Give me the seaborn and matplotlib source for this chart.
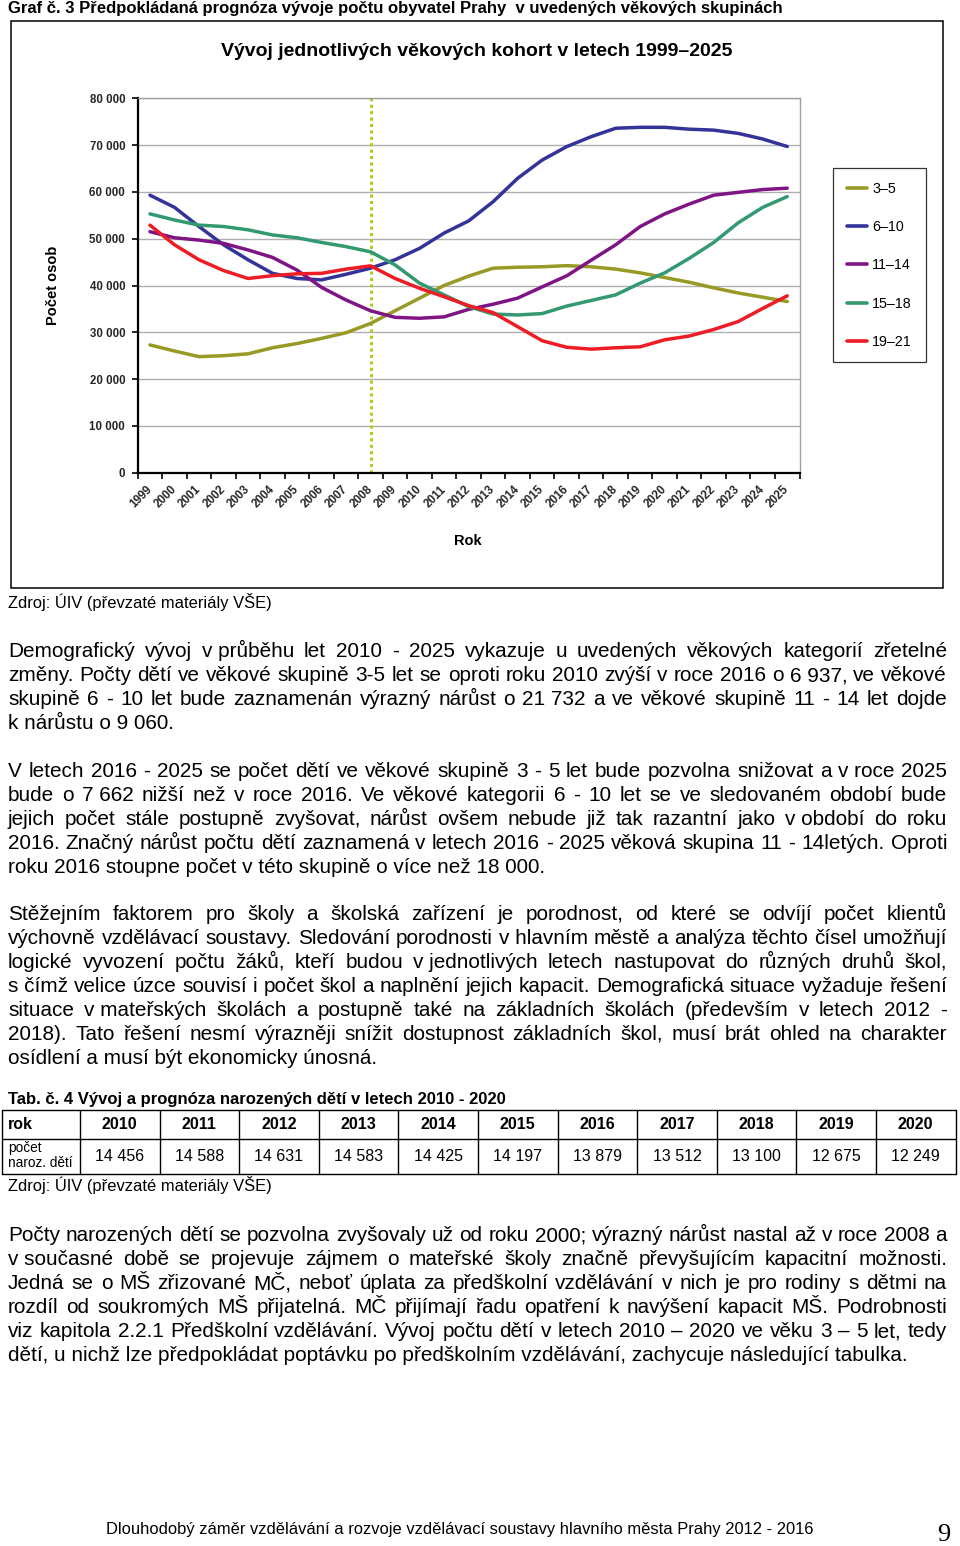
import numpy as np
import pandas as pd
import matplotlib
matplotlib.use("Agg")
import matplotlib.pyplot as plt
import seaborn as sns
from matplotlib.ticker import FuncFormatter, MultipleLocator, FixedLocator
from matplotlib.patches import Rectangle
from matplotlib.lines import Line2D

# ---------------- data ----------------
years = list(range(1999, 2026))
cohorts = ["3–5", "6–10", "11–14", "15–18", "19–21"]
age_3_5 = [27300, 26000, 24800, 25000, 25400, 26700, 27600, 28700, 29900, 31900, 34600, 37300, 40000, 42000,
           43700, 43900, 44000, 44240, 44000, 43500, 42700, 41700, 40700, 39500, 38400, 37500, 36580]
age_6_10 = [59300, 56700, 52600, 48700, 45500, 42600, 41500, 41200, 42400, 43700, 45500, 47940, 51200, 53800,
            57900, 62900, 66800, 69670, 71800, 73600, 73800, 73800, 73400, 73200, 72500, 71300, 69700]
age_11_14 = [51500, 50200, 49700, 49000, 47600, 46000, 43300, 39600, 36900, 34600, 33200, 33000, 33300, 34900,
             36000, 37300, 39700, 42060, 45400, 48700, 52600, 55300, 57400, 59300, 59900, 60500, 60800]
age_15_18 = [55300, 54000, 52900, 52600, 51900, 50800, 50200, 49200, 48300, 47200, 44400, 40500, 38000, 35500,
             33900, 33700, 34000, 35600, 36800, 38000, 40500, 42700, 45800, 49200, 53400, 56700, 59000]
age_19_21 = [52900, 48700, 45500, 43200, 41500, 42100, 42500, 42600, 43500, 44200, 41500, 39400, 37600, 35700,
             34200, 31200, 28200, 26800, 26400, 26700, 26900, 28400, 29200, 30600, 32300, 35100, 37800]
marker_year = 2008

table_years = [2010, 2011, 2012, 2013, 2014, 2015, 2016, 2017, 2018, 2019, 2020]
births = [14456, 14588, 14631, 14583, 14425, 14197, 13879, 13512, 13100, 12675, 12249]

colors = ["#999926", "#333399", "#7F1585", "#339970", "#EE1C25"]

NB = "\u00a0"
para1 = [
    f"Demografický vývoj v{NB}průběhu let 2010 - 2025 vykazuje u uvedených věkových kategorií zřetelné",
    f"změny. Počty dětí ve věkové skupině 3-5 let se oproti roku 2010 zvýší v roce 2016 o 6{NB}937, ve věkové",
    f"skupině 6 - 10 let bude zaznamenán výrazný nárůst o 21{NB}732 a ve věkové skupině 11 - 14 let dojde",
    f"k{NB}nárůstu o 9{NB}060.",
]
para2 = [
    f"V letech 2016 - 2025 se počet dětí ve věkové skupině 3 - 5 let bude pozvolna snižovat a v{NB}roce 2025",
    f"bude o 7{NB}662 nižší než v roce 2016. Ve věkové kategorii 6 - 10 let se ve sledovaném období bude",
    f"jejich počet stále postupně zvyšovat, nárůst ovšem nebude již tak razantní jako v{NB}období do roku",
    f"2016. Značný nárůst počtu dětí zaznamená v letech 2016 - 2025 věková skupina 11 - 14letých. Oproti",
    f"roku 2016 stoupne počet v této skupině o více než 18{NB}000.",
]
para3 = [
    "Stěžejním faktorem pro školy a školská zařízení je porodnost, od které se odvíjí počet klientů",
    f"výchovně vzdělávací soustavy. Sledování porodnosti v{NB}hlavním městě a analýza těchto čísel umožňují",
    f"logické vyvození počtu žáků, kteří budou v{NB}jednotlivých letech nastupovat do různých druhů škol,",
    f"s{NB}čímž velice úzce souvisí i počet škol a naplnění jejich kapacit. Demografická situace vyžaduje řešení",
    f"situace v{NB}mateřských školách a postupně také na základních školách (především v letech 2012 -",
    "2018). Tato řešení nesmí výrazněji snížit dostupnost základních škol, musí brát ohled na charakter",
    "osídlení a musí být ekonomicky únosná.",
]
para4 = [
    "Počty narozených dětí se pozvolna zvyšovaly už od roku 2000; výrazný nárůst nastal až v roce 2008 a",
    f"v{NB}současné době se projevuje zájmem o mateřské školy značně převyšujícím kapacitní možnosti.",
    "Jedná se o MŠ zřizované MČ, neboť úplata za předškolní vzdělávání v nich je pro rodiny s dětmi na",
    "rozdíl od soukromých MŠ přijatelná. MČ přijímají řadu opatření k navýšení kapacit MŠ. Podrobnosti",
    "viz kapitola 2.2.1 Předškolní vzdělávání. Vývoj počtu dětí v letech 2010 – 2020 ve věku 3 – 5 let, tedy",
    "dětí, u nichž lze předpokládat poptávku po předškolním vzdělávání, zachycuje následující tabulka.",
]

# ---------------- setup ----------------
sns.set_theme(style="white")
plt.rcParams["font.family"] = ["Liberation Sans", "DejaVu Sans"]
plt.rcParams["text.color"] = "black"

W, H = 960, 1546
fig = plt.figure(figsize=(W / 100, H / 100), dpi=100)
fig.patch.set_facecolor("white")


def fx(x):
    return x / W


def fy(y):
    return 1 - y / H


# ---------------- chart ----------------
df = pd.DataFrame({
    "Rok": years * 5,
    "Počet": age_3_5 + age_6_10 + age_11_14 + age_15_18 + age_19_21,
    "Skupina": sum([[c] * len(years) for c in cohorts], []),
})

ax = fig.add_axes([fx(137.7), fy(472.7), fx(799.5) - fx(137.7), fy(98.3) - fy(472.7)])
sns.lineplot(data=df, x="Rok", y="Počet", hue="Skupina", hue_order=cohorts,
             palette=colors, linewidth=2.5, ax=ax, legend=True)

ax.axvline(marker_year, color="#A6D21E", ls=(0, (1.0, 1.1)), lw=2.2, zorder=1)

ax.set_xlim(1998.5, 2025.5)
ax.set_ylim(0, 80000)
ax.yaxis.set_major_locator(MultipleLocator(10000))
ax.yaxis.set_major_formatter(FuncFormatter(lambda v, p: f"{int(v):,}".replace(",", " ")))
ax.grid(axis="y", color="#B0B0B0", lw=1.0)
ax.grid(axis="x", visible=False)
ax.set_axisbelow(True)

ax.xaxis.set_major_locator(FixedLocator(years))
ax.set_xticklabels([str(y) for y in years], rotation=45, ha="right", va="center",
                   rotation_mode="anchor", fontsize=8.4, fontweight="bold")
ax.xaxis.set_minor_locator(FixedLocator([y - 0.5 for y in years] + [2025.5]))
ax.tick_params(axis="x", which="major", length=0, pad=11)
ax.tick_params(axis="x", which="minor", length=4, width=1.2, color="black", direction="out", bottom=True)
ax.tick_params(axis="y", which="major", length=4, width=1.2, color="black", direction="out", left=True, pad=5)
for lab in ax.get_yticklabels():
    lab.set_fontsize(8.3)
    lab.set_fontweight("bold")

for s in ["left", "bottom"]:
    ax.spines[s].set_color("black")
    ax.spines[s].set_linewidth(1.6)
for s in ["top", "right"]:
    ax.spines[s].set_color("#A0A0A0")
    ax.spines[s].set_linewidth(1.0)

ax.set_xlabel("")
ax.set_ylabel("")
fig.text(fx(53), fy(285), "Počet osob", rotation=90, ha="center", va="center",
         fontsize=10.5, fontweight="bold")
fig.text(fx(468), fy(541), "Rok", ha="center", va="center", fontsize=10.5, fontweight="bold")

sns.move_legend(ax, loc="upper left", bbox_to_anchor=(fx(833), fy(168)),
                bbox_transform=fig.transFigure, title=None, frameon=True, fancybox=False,
                fontsize=10.3, labelspacing=1.70, handlelength=1.45, handletextpad=0.35,
                borderpad=0.95, borderaxespad=0)
leg = ax.get_legend()
leg.get_frame().set_edgecolor("black")
leg.get_frame().set_linewidth(0.9)
for ln in leg.get_lines():
    ln.set_linewidth(2.6)

# chart frame
fig.add_artist(Rectangle((fx(11), fy(588)), fx(943) - fx(11), fy(21) - fy(588),
                         transform=fig.transFigure, fill=False, edgecolor="black", lw=1.1))

fig.text(fx(477), fy(56), "Vývoj jednotlivých věkových kohort v letech 1999–2025",
         ha="center", va="baseline", fontsize=14.0, fontweight="bold")
fig.text(fx(8), fy(13), "Graf č. 3 Předpokládaná prognóza vývoje počtu obyvatel Prahy  v uvedených věkových skupinách",
         ha="left", va="baseline", fontsize=12.0, fontweight="bold")
fig.text(fx(8), fy(608), "Zdroj: ÚIV (převzaté materiály VŠE)", ha="left", va="baseline", fontsize=11.9)

# ---------------- justified body text ----------------
fig.canvas.draw()
renderer = fig.canvas.get_renderer()
BODY = 14.95
X0, X1 = 8, 947


def width_of(s, size):
    t = fig.text(0, 0, s, fontsize=size)
    w = t.get_window_extent(renderer).width
    t.remove()
    return w


def paragraph(lines, y0, step=24, size=BODY):
    for i, line in enumerate(lines):
        y = y0 + i * step
        if i == len(lines) - 1:
            fig.text(fx(X0), fy(y), line, ha="left", va="baseline", fontsize=size)
            continue
        words = line.split(" ")
        ws = [width_of(w, size) for w in words]
        gap = (X1 - X0 - sum(ws)) / (len(words) - 1)
        x = X0
        for w, wd in zip(words, ws):
            fig.text(fx(x), fy(y), w, ha="left", va="baseline", fontsize=size)
            x += wd + gap


paragraph(para1, 657)
paragraph(para2, 777)
paragraph(para3, 920)
paragraph(para4, 1241)

# ---------------- table ----------------
fig.text(fx(8), fy(1104), "Tab. č. 4 Vývoj a prognóza narozených dětí v letech 2010 - 2020",
         ha="left", va="baseline", fontsize=12.0, fontweight="bold")
T_TOP, T_MID, T_BOT = 1110, 1139, 1174
T_LEFT, C0 = 2, 80
CW = (955.5 - C0) / len(table_years)
tl = dict(transform=fig.transFigure, color="black", lw=1.0)
for yy in (T_TOP, T_MID, T_BOT):
    fig.add_artist(Line2D([fx(T_LEFT), fx(C0 + CW * len(table_years))], [fy(yy), fy(yy)], **tl))
for xx in [T_LEFT] + [C0 + CW * k for k in range(len(table_years) + 1)]:
    fig.add_artist(Line2D([fx(xx), fx(xx)], [fy(T_TOP), fy(T_BOT)], **tl))

fig.text(fx(8), fy((T_TOP + T_MID) / 2), "rok", ha="left", va="center", fontsize=11.5, fontweight="bold")
fig.text(fx(8), fy(1148), "počet", ha="left", va="center", fontsize=9.8)
fig.text(fx(8), fy(1163), "naroz. dětí", ha="left", va="center", fontsize=9.8)
for k, (yr, b) in enumerate(zip(table_years, births)):
    cx = C0 + CW * (k + 0.5)
    fig.text(fx(cx), fy((T_TOP + T_MID) / 2), str(yr), ha="center", va="center",
             fontsize=11.5, fontweight="bold")
    fig.text(fx(cx), fy((T_MID + T_BOT) / 2), f"{b:,}".replace(",", " "), ha="center", va="center",
             fontsize=11.5)

fig.text(fx(8), fy(1191), "Zdroj: ÚIV (převzaté materiály VŠE)", ha="left", va="baseline", fontsize=11.9)

# ---------------- footer ----------------
fig.text(fx(106), fy(1534), "Dlouhodobý záměr vzdělávání a rozvoje vzdělávací soustavy hlavního města Prahy 2012 - 2016",
         ha="left", va="baseline", fontsize=11.9)
fig.text(fx(950), fy(1541), "9", ha="right", va="baseline", fontsize=19,
         family=["Liberation Serif", "DejaVu Serif"])

fig.savefig("out.png", dpi=100, facecolor="white")
